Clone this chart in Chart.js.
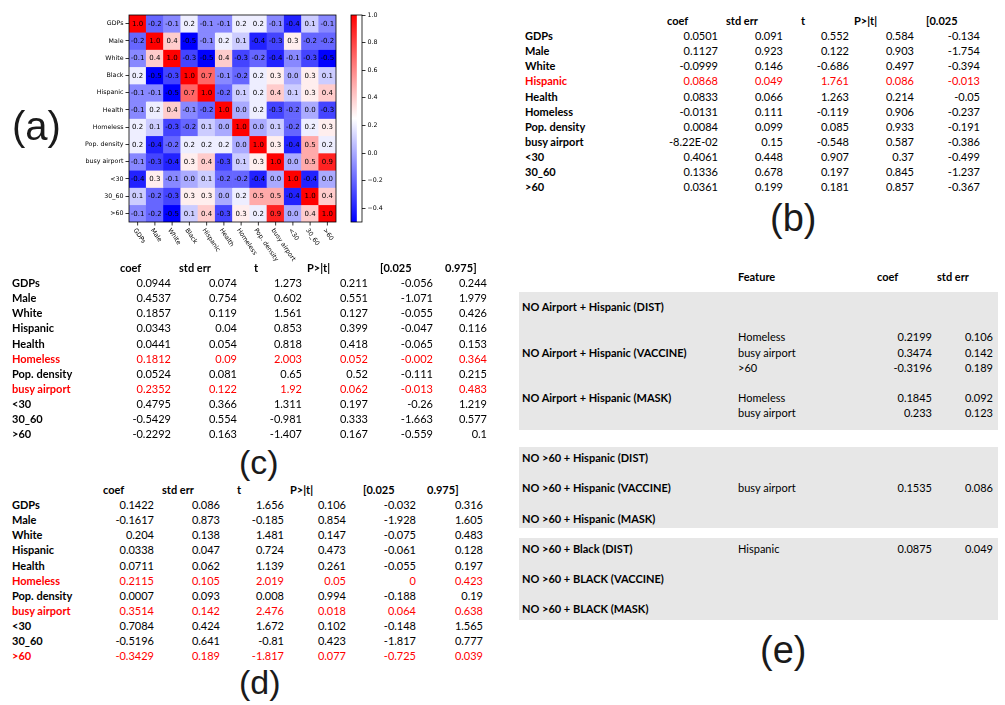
<!DOCTYPE html>
<html><head><meta charset="utf-8">
<script src="https://cdn.jsdelivr.net/npm/chart.js@4.4.1/dist/chart.umd.min.js"></script>
<style>
html,body{margin:0;padding:0;background:#fff;}
#page{position:relative;width:1005px;height:705px;overflow:hidden;font-family:Lato,"Open Sans",sans-serif;color:#000;}
.t{position:absolute;font-size:11px;line-height:14px;white-space:nowrap;}
.b{font-weight:700;}
.red{color:#ff0000;}
.panel{position:absolute;font-family:"Liberation Sans",Arial,sans-serif;line-height:32px;color:#1a1a1a;white-space:nowrap;}
.band{position:absolute;background:#e7e7e7;}
canvas{position:absolute;}
</style></head>
<body><div id="page">
<canvas id="heat" width="345" height="262" style="left:0;top:0;width:345px;height:262px"></canvas>
<canvas id="cbar" width="54" height="240" style="left:338px;top:0;width:54px;height:240px"></canvas>
</div>
<script>
// ---- correlation heatmap ----
const features = ['GDPs','Male','White','Black','Hispanic','Health','Homeless','Pop. density','busy airport','<30','30_60','>60'];
const correlation = [
  [ 1.0,-0.2,-0.1, 0.2,-0.1,-0.1, 0.2, 0.2,-0.1,-0.4, 0.1,-0.1],
  [-0.2, 1.0, 0.4,-0.5,-0.1, 0.2, 0.1,-0.4,-0.3, 0.3,-0.2,-0.2],
  [-0.1, 0.4, 1.0,-0.3,-0.5, 0.4,-0.3,-0.2,-0.4,-0.1,-0.3,-0.5],
  [ 0.2,-0.5,-0.3, 1.0, 0.7,-0.1,-0.2, 0.2, 0.3, 0.0, 0.3, 0.1],
  [-0.1,-0.1,-0.5, 0.7, 1.0,-0.2, 0.1, 0.2, 0.4, 0.1, 0.3, 0.4],
  [-0.1, 0.2, 0.4,-0.1,-0.2, 1.0, 0.0, 0.2,-0.3,-0.2, 0.0,-0.3],
  [ 0.2, 0.1,-0.3,-0.2, 0.1, 0.0, 1.0, 0.0, 0.1,-0.2, 0.2, 0.3],
  [ 0.2,-0.4,-0.2, 0.2, 0.2, 0.2, 0.0, 1.0, 0.3,-0.4, 0.5, 0.2],
  [-0.1,-0.3,-0.4, 0.3, 0.4,-0.3, 0.1, 0.3, 1.0, 0.0, 0.5, 0.9],
  [-0.4, 0.3,-0.1, 0.0, 0.1,-0.2,-0.2,-0.4, 0.0, 1.0,-0.4, 0.0],
  [ 0.1,-0.2,-0.3, 0.3, 0.3, 0.0, 0.2, 0.5, 0.5,-0.4, 1.0, 0.4],
  [-0.1,-0.2,-0.5, 0.1, 0.4,-0.3, 0.3, 0.2, 0.9, 0.0, 0.4, 1.0]
];
const colorMin = -0.5;
const colorMax = 1.0;
const colorbarTicks = [-0.4, -0.2, 0.0, 0.2, 0.4, 0.6, 0.8, 1.0];

// ---- regression table (b) ----
const bLabels = ['GDPs','Male','White','Hispanic','Health','Homeless','Pop. density','busy airport','<30','30_60','>60'];
const bCoef   = ['0.0501','0.1127','-0.0999','0.0868','0.0833','-0.0131','0.0084','-8.22E-02','0.4061','0.1336','0.0361'];
const bStdErr = ['0.091','0.923','0.146','0.049','0.066','0.111','0.099','0.15','0.448','0.678','0.199'];
const bT      = ['0.552','0.122','-0.686','1.761','1.263','-0.119','0.085','-0.548','0.907','0.197','0.181'];
const bP      = ['0.584','0.903','0.497','0.086','0.214','0.906','0.933','0.587','0.37','0.845','0.857'];
const bLow    = ['-0.134','-1.754','-0.394','-0.013','-0.05','-0.237','-0.191','-0.386','-0.499','-1.237','-0.367'];
const bRed    = ['Hispanic'];

// ---- regression table (c) ----
const cLabels = bLabels;
const cCoef   = ['0.0944','0.4537','0.1857','0.0343','0.0441','0.1812','0.0524','0.2352','0.4795','-0.5429','-0.2292'];
const cStdErr = ['0.074','0.754','0.119','0.04','0.054','0.09','0.081','0.122','0.366','0.554','0.163'];
const cT      = ['1.273','0.602','1.561','0.853','0.818','2.003','0.65','1.92','1.311','-0.981','-1.407'];
const cP      = ['0.211','0.551','0.127','0.399','0.418','0.052','0.52','0.062','0.197','0.333','0.167'];
const cLow    = ['-0.056','-1.071','-0.055','-0.047','-0.065','-0.002','-0.111','-0.013','-0.26','-1.663','-0.559'];
const cHigh   = ['0.244','1.979','0.426','0.116','0.153','0.364','0.215','0.483','1.219','0.577','0.1'];
const cRed    = ['Homeless','busy airport'];

// ---- regression table (d) ----
const dLabels = bLabels;
const dCoef   = ['0.1422','-0.1617','0.204','0.0338','0.0711','0.2115','0.0007','0.3514','0.7084','-0.5196','-0.3429'];
const dStdErr = ['0.086','0.873','0.138','0.047','0.062','0.105','0.093','0.142','0.424','0.641','0.189'];
const dT      = ['1.656','-0.185','1.481','0.724','1.139','2.019','0.008','2.476','1.672','-0.81','-1.817'];
const dP      = ['0.106','0.854','0.147','0.473','0.261','0.05','0.994','0.018','0.102','0.423','0.077'];
const dLow    = ['-0.032','-1.928','-0.075','-0.061','-0.055','0','-0.188','0.064','-0.148','-1.817','-0.725'];
const dHigh   = ['0.316','1.605','0.483','0.128','0.197','0.423','0.19','0.638','1.565','0.777','0.039'];
const dRed    = ['Homeless','busy airport','>60'];

// ---- summary table (e) ----
const eModels = [
  'NO Airport + Hispanic (DIST)', 'NO Airport + Hispanic (VACCINE)', 'NO Airport + Hispanic (MASK)',
  'NO >60 + Hispanic (DIST)', 'NO >60 + Hispanic (VACCINE)', 'NO >60 + Hispanic (MASK)',
  'NO >60 + Black (DIST)', 'NO >60 + BLACK (VACCINE)', 'NO >60 + BLACK (MASK)'
];
const eFeatures = [[], ['Homeless','busy airport','>60'], ['Homeless','busy airport'], [], ['busy airport'], [], ['Hispanic'], [], []];
const eCoef     = [[], ['0.2199','0.3474','-0.3196'], ['0.1845','0.233'], [], ['0.1535'], [], ['0.0875'], [], []];
const eStdErr   = [[], ['0.106','0.142','0.189'], ['0.092','0.123'], [], ['0.086'], [], ['0.049'], [], []];

// ---------------------------------------------------------------
function bwr(v) {
  const t = Math.min(1, Math.max(0, (v - colorMin) / (colorMax - colorMin)));
  let r, g, b;
  if (t < 0.5) { r = g = 2 * t; b = 1; } else { r = 1; g = b = 2 * (1 - t); }
  return `rgb(${Math.round(r * 255)},${Math.round(g * 255)},${Math.round(b * 255)})`;
}

const heatDecor = {
  id: 'heatDecor',
  afterDatasetsDraw(chart) {
    const ctx = chart.ctx, area = chart.chartArea;
    ctx.save();
    ctx.fillStyle = '#000';
    ctx.font = '7px "DejaVu Sans"';
    ctx.textAlign = 'center';
    ctx.textBaseline = 'middle';
    chart.data.datasets.forEach((ds, i) => {
      chart.getDatasetMeta(i).data.forEach((el, j) => {
        ctx.fillText(correlation[i][j].toFixed(1), el.x, (el.y + el.base) / 2 + 0.5);
      });
    });
    ctx.strokeStyle = '#000';
    ctx.lineWidth = 0.8;
    ctx.strokeRect(area.left, area.top, area.right - area.left, area.bottom - area.top);
    const xs = chart.scales.x;
    ctx.font = '6.3px "DejaVu Sans"';
    ctx.textAlign = 'left';
    features.forEach((f, j) => {
      const x = xs.getPixelForValue(j);
      ctx.beginPath();
      ctx.moveTo(x, area.bottom);
      ctx.lineTo(x, area.bottom + 3.5);
      ctx.stroke();
      ctx.save();
      ctx.translate(x - 3, area.bottom + 7);
      ctx.rotate(56 * Math.PI / 180);
      ctx.fillText(f, 0, 0);
      ctx.restore();
    });
    ctx.restore();
  }
};

new Chart(document.getElementById('heat'), {
  type: 'bar',
  data: {
    labels: features,
    datasets: correlation.map((row, i) => ({
      data: row.map(() => [i - 0.5, i + 0.5]),
      backgroundColor: row.map(bwr),
      borderWidth: 0,
      barPercentage: 1,
      categoryPercentage: 1,
      grouped: false
    }))
  },
  options: {
    responsive: false,
    animation: false,
    devicePixelRatio: 1,
    layout: { padding: { left: 0, right: 9, top: 15, bottom: 0 } },
    plugins: { legend: { display: false }, tooltip: { enabled: false } },
    scales: {
      x: {
        type: 'category',
        offset: true,
        ticks: { display: false },
        grid: { display: false },
        border: { display: false },
        afterFit: s => { s.height = 40; }
      },
      y: {
        type: 'linear',
        reverse: true,
        min: -0.5,
        max: 11.5,
        afterBuildTicks: s => { s.ticks = features.map((_, i) => ({ value: i })); },
        afterFit: s => { s.width = 129; },
        ticks: {
          callback: v => features[v],
          font: { family: 'DejaVu Sans', size: 6.3 },
          color: '#000',
          padding: 2,
          autoSkip: false
        },
        grid: { drawOnChartArea: false, drawTicks: true, tickLength: 3.5, tickColor: '#000', tickWidth: 0.8 },
        border: { display: false }
      }
    }
  },
  plugins: [heatDecor]
});

const cbarFrame = {
  id: 'cbarFrame',
  afterDatasetsDraw(chart) {
    const ctx = chart.ctx, a = chart.chartArea;
    ctx.save();
    ctx.strokeStyle = '#000';
    ctx.lineWidth = 0.8;
    ctx.strokeRect(a.left, a.top, a.right - a.left, a.bottom - a.top);
    ctx.restore();
  }
};

new Chart(document.getElementById('cbar'), {
  type: 'bar',
  data: {
    labels: [''],
    datasets: [{
      data: [[colorMin, colorMax]],
      backgroundColor: c => {
        const a = c.chart.chartArea;
        if (!a) return '#fff';
        const g = c.chart.ctx.createLinearGradient(0, a.bottom, 0, a.top);
        g.addColorStop(0, bwr(colorMin));
        g.addColorStop(0.5, bwr((colorMin + colorMax) / 2));
        g.addColorStop(1, bwr(colorMax));
        return g;
      },
      borderWidth: 0,
      barPercentage: 1,
      categoryPercentage: 1
    }]
  },
  options: {
    responsive: false,
    animation: false,
    devicePixelRatio: 1,
    layout: { padding: { left: 13, right: 0, top: 15, bottom: 18 } },
    plugins: { legend: { display: false }, tooltip: { enabled: false } },
    scales: {
      x: { display: false, offset: false },
      y: {
        position: 'right',
        min: colorMin,
        max: colorMax,
        afterBuildTicks: s => { s.ticks = colorbarTicks.map(v => ({ value: v })); },
        afterFit: s => { s.width = 30; },
        ticks: {
          callback: v => (v < 0 ? '\u2212' : '') + Math.abs(v).toFixed(1),
          font: { family: 'DejaVu Sans', size: 6.3 },
          color: '#000',
          padding: 2
        },
        grid: { drawOnChartArea: false, drawTicks: true, tickLength: 3.5, tickColor: '#000', tickWidth: 0.8 },
        border: { display: false }
      }
    }
  },
  plugins: [cbarFrame]
});

// ---- tables ----
const page = document.getElementById('page');
function put(text, x, y, align, cls) {
  const d = document.createElement('div');
  d.className = 't ' + (cls || '');
  d.textContent = text;
  d.style.top = (y - 7) + 'px';
  if (align === 'right') { d.style.left = (x - 200) + 'px'; d.style.width = '200px'; d.style.textAlign = 'right'; }
  else { d.style.left = x + 'px'; }
  page.appendChild(d);
}
function band(x, y, w, h) {
  const d = document.createElement('div');
  d.className = 'band';
  Object.assign(d.style, { left: x + 'px', top: y + 'px', width: w + 'px', height: h + 'px' });
  page.appendChild(d);
}
function regTable(spec) {
  const rowH = 15.1;
  spec.headers.forEach((h, k) => put(h, spec.headerX[k], spec.headerY, 'left', spec.headerCls));
  spec.labels.forEach((lab, i) => {
    const y = spec.headerY + rowH * (i + 1);
    const red = spec.red.includes(lab) ? ' red' : '';
    put(lab, spec.labelX, y, 'left', spec.labelCls + red);
    spec.cols.forEach((col, k) => put(col[i], spec.colRight[k], y, 'right', red));
  });
}
regTable({
  headers: ['coef', 'std err', 't', 'P>|t|', '[0.025'],
  headerX: [667, 726, 801, 854, 926], headerY: 21, headerCls: 'b',
  labels: bLabels, labelX: 525, labelCls: 'b', red: bRed,
  cols: [bCoef, bStdErr, bT, bP, bLow], colRight: [718, 783, 849, 914, 980]
});
regTable({
  headers: ['coef', 'std err', 't', 'P>|t|', '[0.025', '0.975]'],
  headerX: [120, 179, 254, 307, 380, 445], headerY: 268, headerCls: 'b',
  labels: cLabels, labelX: 12, labelCls: 'b', red: cRed,
  cols: [cCoef, cStdErr, cT, cP, cLow, cHigh], colRight: [171, 237, 302, 368, 433, 487]
});
regTable({
  headers: ['coef', 'std err', 't', 'P>|t|', '[0.025', '0.975]'],
  headerX: [103, 162, 237, 290, 363, 427], headerY: 490, headerCls: 'b',
  labels: dLabels, labelX: 12, labelCls: 'b', red: dRed,
  cols: [dCoef, dStdErr, dT, dP, dLow, dHigh], colRight: [154, 220, 284, 346, 416, 483]
});

// summary table (e): shaded blocks and rows on a fixed line grid
const eTop = 277, eRow = 15.1;
band(519, 292, 479, 138);
band(519, 447, 479, 81);
band(519, 538, 479, 82);
put('Feature', 738, eTop, 'left', 'b');
put('coef', 877, eTop, 'left', 'b');
put('std err', 937, eTop, 'left', 'b');
const eLabelRow = [2, 5, 8, 12, 14, 16, 18, 20, 22];
const eFirstFeatureRow = [2, 4, 8, 12, 14, 16, 18, 20, 22];
eModels.forEach((m, g) => {
  put(m, 522, eTop + eRow * eLabelRow[g], 'left', 'b');
  eFeatures[g].forEach((f, k) => {
    const y = eTop + eRow * (eFirstFeatureRow[g] + k);
    put(f, 738, y, 'left', '');
    put(eCoef[g][k], 932, y, 'right', '');
    put(eStdErr[g][k], 993, y, 'right', '');
  });
});

// panel letters (top-left of each box)
[['(a)', 12, 110, 40], ['(b)', 770, 202, 38], ['(c)', 239, 446, 34], ['(d)', 239, 666, 34], ['(e)', 760, 634, 38]].forEach(([s, x, y, size]) => {
  const d = document.createElement('div');
  d.className = 'panel';
  d.textContent = s;
  d.style.fontSize = size + 'px';
  d.style.left = x + 'px';
  d.style.top = y + 'px';
  page.appendChild(d);
});
</script>
</body></html>
